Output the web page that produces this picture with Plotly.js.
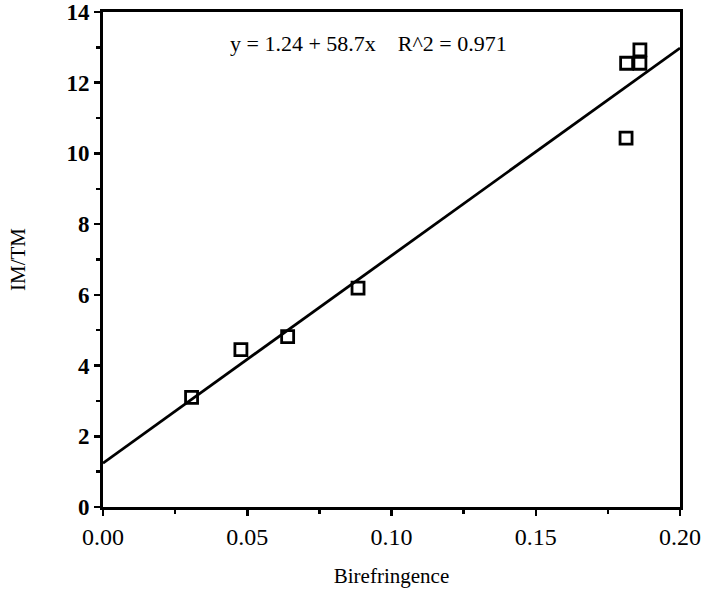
<!DOCTYPE html>
<html>
<head>
<meta charset="utf-8">
<script src="https://cdn.plot.ly/plotly-3.0.1.min.js"></script>
<style>html,body{margin:0;padding:0;background:#fff;}#chart{width:701px;height:594px;}</style>
</head>
<body>
<div id="chart"></div>
<script>
// Data points
var birefringence = [0.0307, 0.0478, 0.0640, 0.0884, 0.1861, 0.1815, 0.1861, 0.1813];
var imtm = [3.10, 4.45, 4.82, 6.19, 12.93, 12.55, 12.55, 10.43];
// Fitted line endpoints (y = 1.24 + 58.7x)
var fitX = [0.0, 0.20];
var fitY = [1.24, 12.98];
var fitLabel = 'y = 1.24 + 58.7x    R^2 = 0.971';
var xTicks = [0, 0.05, 0.10, 0.15, 0.20];
var xTickText = ['0.00', '0.05', '0.10', '0.15', '0.20'];
var yTicks = [0, 2, 4, 6, 8, 10, 12, 14];
var yTickText = ['<b>0</b>', '<b>2</b>', '<b>4</b>', '<b>6</b>', '<b>8</b>', '<b>10</b>', '<b>12</b>', '<b>14</b>'];

var font = 'Liberation Serif, Times New Roman, serif';

var traces = [
  {x: fitX, y: fitY, mode: 'lines', line: {color: '#000', width: 2.8}, hoverinfo: 'skip', cliponaxis: false},
  {x: birefringence, y: imtm, mode: 'markers', cliponaxis: false,
   marker: {symbol: 'square-open', size: 12, color: '#000', line: {width: 2.8, color: '#000'}}}
];

var layout = {
  width: 701, height: 594,
  margin: {l: 103, r: 21, t: 12, b: 87},
  paper_bgcolor: '#fff', plot_bgcolor: '#fff',
  showlegend: false,
  font: {family: font, color: '#000'},
  xaxis: {
    range: [0, 0.20], tickvals: xTicks, ticktext: xTickText,
    showgrid: false, zeroline: false, ticklabeloverflow: 'allow',
    showline: true, linecolor: '#000', linewidth: 3, mirror: true,
    ticks: 'outside', ticklen: 6, tickwidth: 2.5, tickcolor: '#000',
    minor: {dtick: 0.025, ticks: 'outside', ticklen: 4, tickwidth: 2.5, tickcolor: '#000', showgrid: false},
    tickfont: {family: font, size: 24, color: '#000'},
    title: {text: 'Birefringence', font: {family: font, size: 21, color: '#000'}, standoff: 20}
  },
  yaxis: {
    range: [0, 14], tickvals: yTicks, ticktext: yTickText,
    showgrid: false, zeroline: false, ticklabeloverflow: 'allow',
    showline: true, linecolor: '#000', linewidth: 3, mirror: true,
    ticks: 'outside', ticklen: 6, tickwidth: 2.5, tickcolor: '#000',
    minor: {dtick: 1, ticks: 'outside', ticklen: 4, tickwidth: 2.5, tickcolor: '#000', showgrid: false},
    tickfont: {family: font, size: 23, color: '#000'},
    title: {text: 'IM/TM', font: {family: font, size: 21, color: '#000'}, standoff: 36}
  },
  annotations: [{
    x: 0.092, y: 13.1, xref: 'x', yref: 'y', text: fitLabel, showarrow: false,
    font: {family: font, size: 22, color: '#000'}
  }]
};

Plotly.newPlot('chart', traces, layout, {staticPlot: true, displayModeBar: false});
</script>
</body>
</html>
